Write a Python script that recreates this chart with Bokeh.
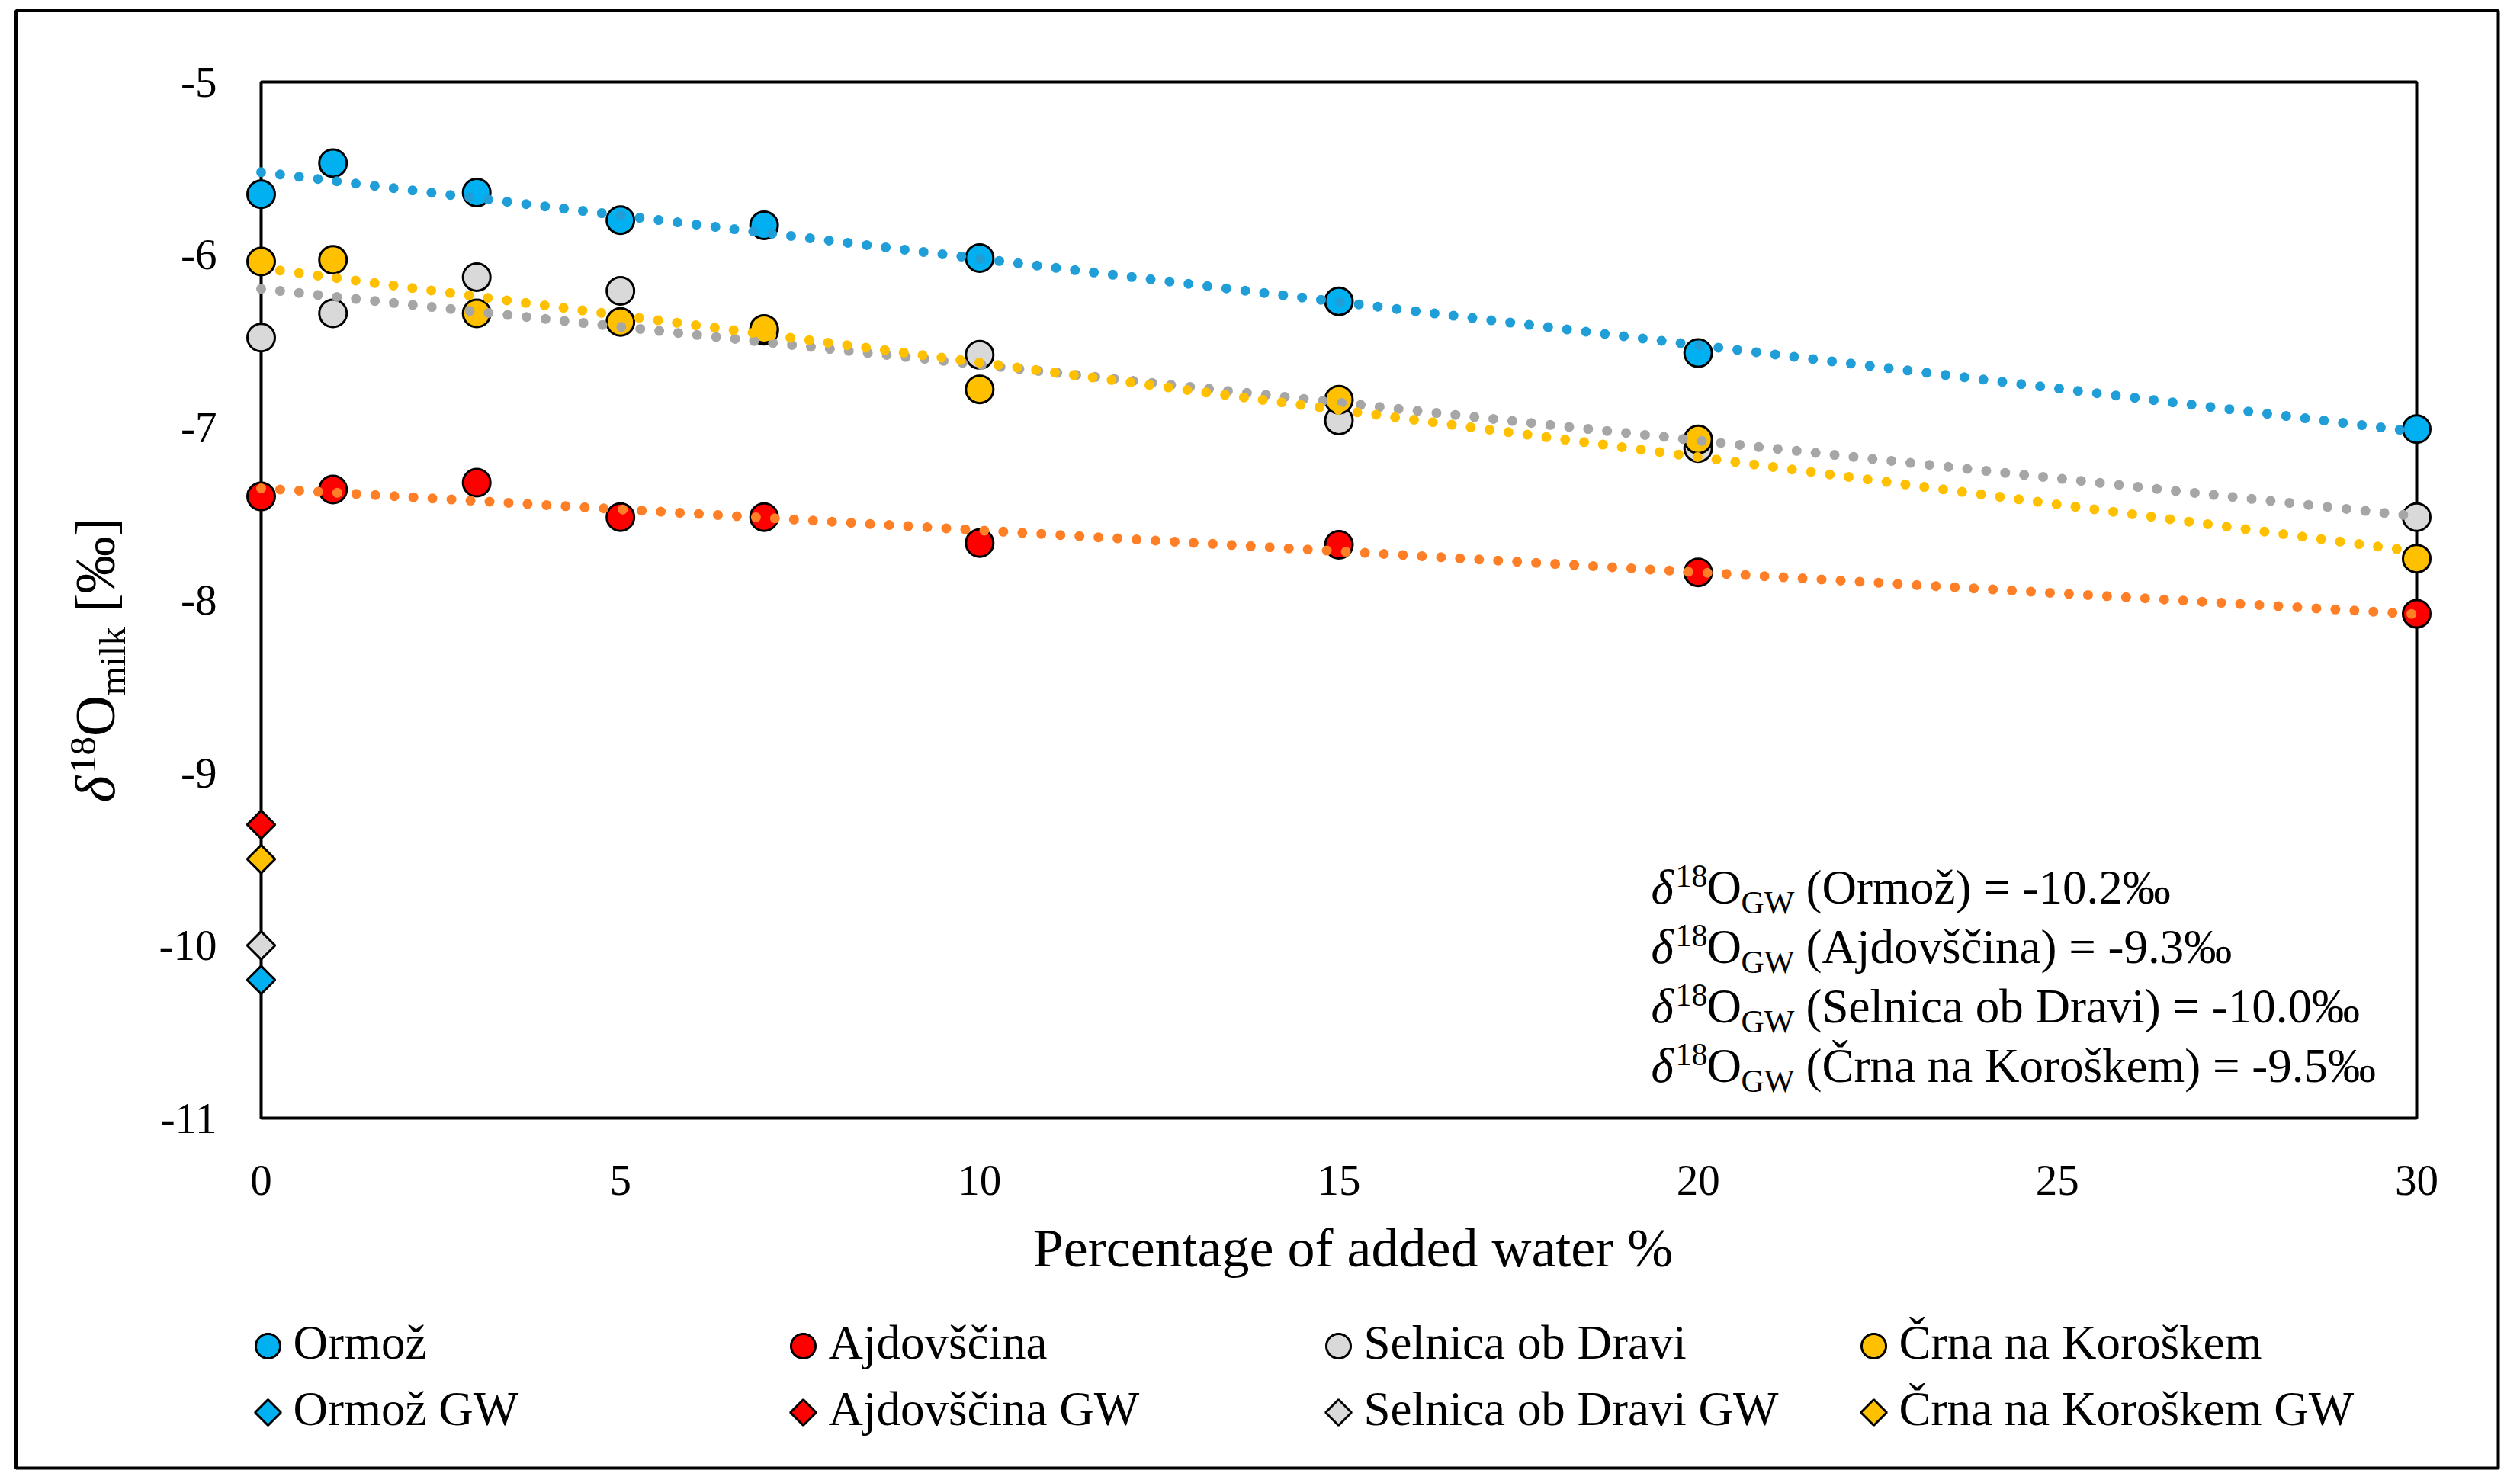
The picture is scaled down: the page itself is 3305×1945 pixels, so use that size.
import numpy as np
from bokeh.plotting import figure
from bokeh.models import Range1d, FixedTicker, Label
from bokeh.core.properties import value
from bokeh.embed import file_html
from bokeh.resources import INLINE

# ---------------- data ----------------
added_water = [0, 1, 3, 5, 7, 10, 15, 20, 30]
ormoz = [-5.65, -5.47, -5.64, -5.80, -5.83, -6.02, -6.27, -6.57, -7.01]
ajdovscina = [-7.40, -7.36, -7.32, -7.52, -7.52, -7.67, -7.68, -7.84, -8.08]
selnica = [-6.48, -6.34, -6.13, -6.21, -6.44, -6.58, -6.96, -7.12, -7.52]
crna = [-6.04, -6.03, -6.34, -6.39, -6.43, -6.78, -6.84, -7.07, -7.76]

site_names = ["Ormož", "Ajdovščina", "Selnica ob Dravi", "Črna na Koroškem"]
gw_x = [0, 0, 0, 0]
gw_values = [-10.2, -9.3, -10.0, -9.5]
gw_text = ["-10.2", "-9.3", "-10.0", "-9.5"]

x_ticks = [0, 5, 10, 15, 20, 25, 30]
y_ticks = [-11, -10, -9, -8, -7, -6, -5]
x_title = "Percentage of added water %"

marker_colors = ["#00B0F0", "#FF0000", "#D9D9D9", "#FFC000"]
trend_colors = ["#1F9ED8", "#FF7F27", "#A6A6A6", "#FFC000"]
series = [ormoz, ajdovscina, selnica, crna]

# ---------------- layout ----------------
FONT = "Liberation Serif"
W, H = 3300, 1940
FL, FT, FR, FB = 342, 107, 3169, 1466   # frame edges in px
X0, X1 = x_ticks[0], x_ticks[-1]
Y0, Y1 = y_ticks[0], y_ticks[-1]


def off(fs):
    """empirical baseline correction (px) for a font size in px"""
    return 0.46 * fs


def scr(ox, oy):
    """page px -> frame-relative screen units (for Labels)"""
    return ox - FL, FB - oy


def dxp(ox):
    """page px -> data x (placement of decorations / texts outside the frame)"""
    return X0 + (ox - FL) / (FR - FL) * (X1 - X0)


def dyp(oy):
    return Y1 - (oy - FT) / (FB - FT) * (Y1 - Y0)


p = figure(width=W, height=H, x_range=Range1d(X0, X1), y_range=Range1d(Y0, Y1),
           output_backend="svg", toolbar_location=None,
           min_border_left=FL, min_border_right=W - FR,
           min_border_top=FT, min_border_bottom=H - FB)
p.background_fill_color = "white"
p.border_fill_color = "white"
p.outline_line_color = "black"
p.outline_line_width = 4
p.xgrid.visible = False
p.ygrid.visible = False

for ax in (p.xaxis[0], p.yaxis[0]):
    ax.axis_line_color = None
    ax.major_tick_line_color = None
    ax.minor_tick_line_color = None
    ax.major_tick_out = 0
    ax.major_tick_in = 0
    ax.major_label_text_font = FONT
    ax.major_label_text_font_size = "57px"
    ax.major_label_text_color = "black"
p.xaxis.ticker = FixedTicker(ticks=x_ticks)
p.yaxis.ticker = FixedTicker(ticks=y_ticks)
p.xaxis.major_label_overrides = {t: str(t) for t in x_ticks}
p.yaxis.major_label_overrides = {t: str(t) for t in y_ticks}
p.xaxis.major_label_standoff = 62
p.yaxis.major_label_standoff = 58

# ---------------- glyphs ----------------
for vals, c in zip(series, marker_colors):
    p.scatter(added_water, vals, marker="circle", size=36, fill_color=c,
              line_color="black", line_width=3, level="overlay")

for gx, gv, c in zip(gw_x, gw_values, marker_colors):
    p.scatter([gx], [gv], marker="square", angle=np.pi / 4, size=26,
              fill_color=c, line_color="black", line_width=3, level="overlay")

for vals, tc in zip(series, trend_colors):
    coef = np.polyfit(added_water, vals, 1)
    xs = [min(added_water), max(added_water)]
    ys = list(np.polyval(coef, xs))
    p.line(xs, ys, line_color=tc, line_width=13, line_dash="0 25",
           line_cap="round", level="overlay")

# ---------------- legend (4 columns x 2 rows, below the plot) ----------------
col_px = [351 + 702 * i for i in range(len(site_names))]
row_circle_y, row_diamond_y = 1765, 1852
LEG_FS = 63
t_circ = np.linspace(0, 2 * np.pi, 61)[:-1]
for cx, c in zip(col_px, marker_colors):
    # circle swatch
    p.patch([dxp(cx + 16 * np.cos(a)) for a in t_circ],
            [dyp(row_circle_y + 16 * np.sin(a)) for a in t_circ],
            fill_color=c, line_color="black", line_width=3, level="overlay")
    # diamond swatch
    hd = 17
    p.patch([dxp(cx - hd), dxp(cx), dxp(cx + hd), dxp(cx)],
            [dyp(row_diamond_y), dyp(row_diamond_y - hd), dyp(row_diamond_y),
             dyp(row_diamond_y + hd)],
            fill_color=c, line_color="black", line_width=3, level="overlay")
p.text(x=[dxp(cx + 33) for cx in col_px] * 2,
       y=[dyp(row_circle_y + 24 - off(LEG_FS))] * len(col_px)
       + [dyp(row_diamond_y + 24 - off(LEG_FS))] * len(col_px),
       text=site_names + [n + " GW" for n in site_names],
       text_font=value(FONT), text_font_size=value(f"{LEG_FS}px"),
       text_align="left", text_baseline="alphabetic", text_color="black",
       level="overlay")

# ---------------- x axis title ----------------
p.text(x=[dxp(1774)], y=[dyp(1670 - off(72))], text=[x_title],
       text_font=value(FONT), text_font_size=value("72px"),
       text_align="center", text_baseline="alphabetic", text_color="black",
       level="overlay")

# ---------------- y axis title (rotated, composed) ----------------
ypieces = [("δ", 75, "italic", 0, 0),
           ("18", 49, "normal", 37.5, -27),
           ("O", 75, "normal", 86.5, 0),
           ("milk", 49, "normal", 140.6, 12),
           ("[‰]", 75, "normal", 249, 0)]
for t, fs, st, along, perp in ypieces:
    p.text(x=[dxp(158 + perp - off(fs))], y=[dyp(1052 - along)], text=[t],
           angle=np.pi / 2, text_font=value(FONT),
           text_font_size=value(f"{fs}px"), text_font_style=st,
           text_align="left", text_baseline="alphabetic",
           text_color="black", level="overlay")

# ---------------- groundwater annotation ----------------
for i, (n, g) in enumerate(zip(site_names, gw_text)):
    base_y = 1192 + 78 * i
    pieces = [("δ", 63, "italic", 0, 0),
              ("18", 42, "normal", 32, 24),
              ("O", 63, "normal", 73, 0),
              ("GW", 42, "normal", 118, -11),
              ("(" + n + ") = " + g + "‰", 63, "normal", 203, 0)]
    for t, fs, st, ddx, ddy in pieces:
        sx, sy = scr(2165 + ddx, base_y - ddy - off(fs))
        p.add_layout(Label(x=sx, y=sy, x_units="screen", y_units="screen",
                           text=t, text_font=FONT, text_font_size=f"{fs}px",
                           text_font_style=st, text_align="left",
                           text_baseline="alphabetic", text_color="black"))

# ---------------- outer border ----------------
p.quad(left=[dxp(20.5)], right=[dxp(3276)], top=[dyp(13.5)],
       bottom=[dyp(1925)], fill_color=None, line_color="black", line_width=4,
       level="overlay")

open("out.html", "w").write(file_html(p, INLINE))
